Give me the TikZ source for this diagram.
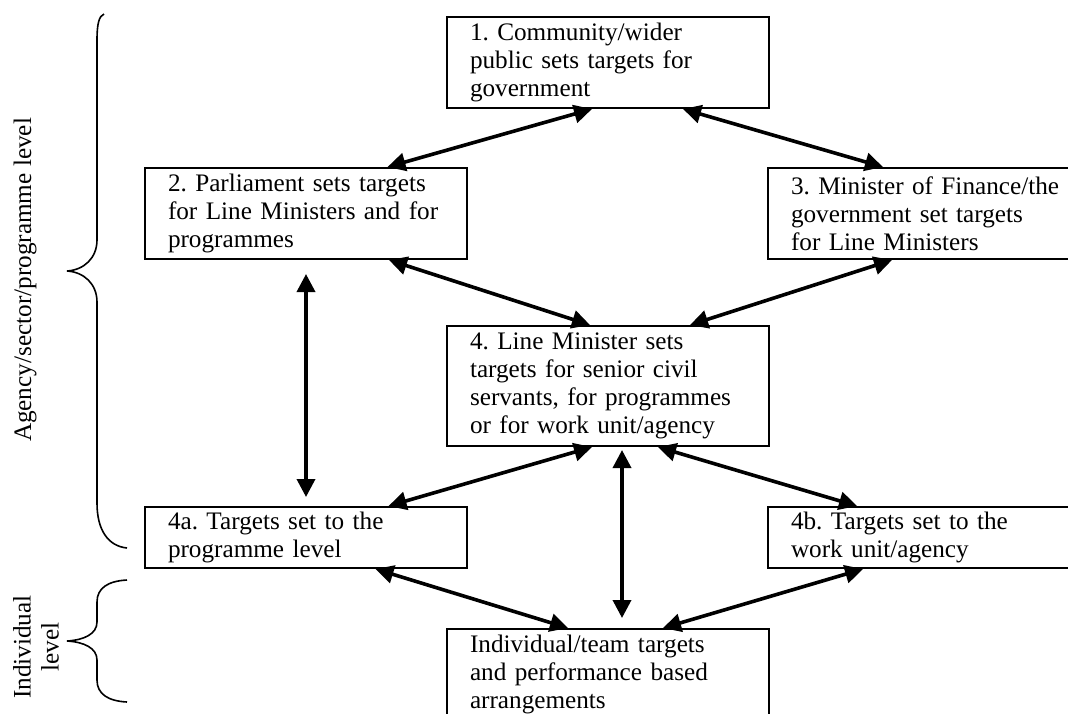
\documentclass[tikz,border=0pt]{standalone}
\usepackage{fontspec}
\setmainfont{Liberation Serif}
\usetikzlibrary{arrows.meta, calc}
\frenchspacing

\begin{document}
\begin{tikzpicture}[
        x=0.5pt, y=-0.5pt,
        font=\fontsize{12.6}{14}\selectfont,
        tbox/.style={rectangle, draw, line width=1pt, anchor=north west, align=left, inner xsep=11.5pt, inner ysep=0pt, text width=138pt},
        arrow/.style={{Triangle[length=9pt, width=9pt]}-{Triangle[length=9pt, width=9pt]}, line width=1.8pt},
        brace/.style={draw, line width=0.8pt}
        ]

        \clip (0,0) rectangle (1068,713);

        % Nodes
        \node (b1) [tbox, minimum height=45.5pt] at (446,16) {1. Community/wider\\public sets targets for\\government};
        \node (b2) [tbox, minimum height=45.5pt] at (144,167) {2. Parliament sets targets\\for Line Ministers and for\\programmes};
        \node (b3) [tbox, minimum height=45.5pt] at (767,167) {3. Minister of Finance/the\\government set targets\\for Line Ministers};
        \node (b4) [tbox, minimum height=60pt] at (446,325) {4. Line Minister sets\\targets for senior civil\\servants, for programmes\\or for work unit/agency};
        \node (b4a) [tbox, minimum height=30.5pt] at (144,506) {4a. Targets set to the\\programme level};
        \node (b4b) [tbox, minimum height=30.5pt] at (767,506) {4b. Targets set to the\\work unit/agency};
        \node (bind) [tbox, minimum height=45.5pt] at (446,628) {Individual/team targets\\and performance based\\arrangements};

        \node (agency) [rotate=90] at (25,280) {Agency/sector/programme level};
        \node (indiv) [rotate=90, align=center] at (36,647) {Individual\\level};

        % Arrows
        \draw [arrow] ($(b1.south)+(-16,0)$) -- ($(b2.north)+(81.5,0)$);
        \draw [arrow] ($(b1.south)+(75,0)$) -- ($(b3.north)+(-46,0)$);
        \draw [arrow] ($(b2.south)+(83,0)$) -- ($(b4.north)+(-18,0)$);
        \draw [arrow] ($(b3.south)+(-37,0)$) -- ($(b4.north)+(82,0)$);
        \draw [arrow, shorten <=7pt, shorten >=4.5pt] (b2.south) -- (b4a.north);
        \draw [arrow] ($(b4.south)+(-16,0)$) -- ($(b4a.north)+(82.5,0)$);
        \draw [arrow] ($(b4.south)+(50,0)$) -- ($(b4b.north)+(-72,0)$);
        \draw [arrow, shorten <=1.5pt, shorten >=5pt] ($(b4.south)+(14,0)$) -- ($(bind.north)+(14,0)$);
        \draw [arrow] ($(b4a.south)+(69.5,0)$) -- ($(bind.north)+(-40,0)$);
        \draw [arrow] ($(b4b.south)+(-66,0)$) -- ($(bind.north)+(55,0)$);

        % Braces
        \draw [brace] (104,14) .. controls (99,16) and (97,24) .. (97,40) -- (97,240)
            .. controls (97,258) and (84,270) .. (67,271)
            .. controls (84,272) and (97,284) .. (97,302) -- (97,503)
            .. controls (97,530) and (108,546) .. (127,548);
        \draw [brace] (127,580) .. controls (108,581) and (97,588) .. (97,602) -- (97,622)
            .. controls (97,634) and (84,640) .. (67,641)
            .. controls (84,642) and (97,648) .. (97,660) -- (97,680)
            .. controls (97,694) and (108,701) .. (127,702);
\end{tikzpicture}
\end{document}
